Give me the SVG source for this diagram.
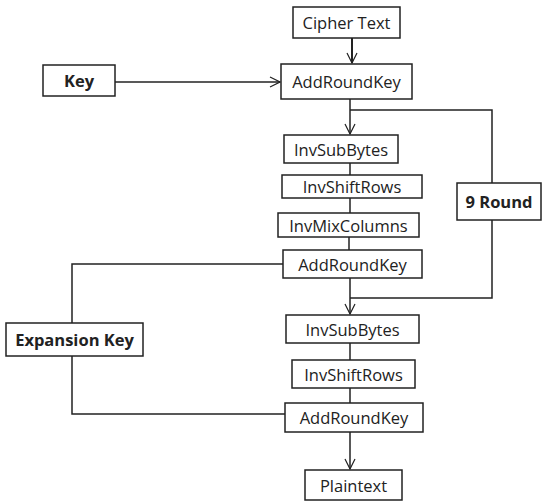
<svg xmlns="http://www.w3.org/2000/svg" width="543" height="502" viewBox="0 0 543 502">
<style>
.box{fill:#fff;stroke:#222;stroke-width:1.5}
.t{font-family:"Open Sans","Liberation Sans",sans-serif;font-size:16.5px;fill:#222;text-anchor:middle;dominant-baseline:central}
.b{font-weight:bold}
.c{fill:none;stroke:#222;stroke-width:1.5}
</style>
<defs>
<marker id="ah" viewBox="0 0 12 12" refX="11" refY="6" markerWidth="12" markerHeight="12" markerUnits="userSpaceOnUse" orient="auto">
<path d="M1,1 L11,6 L1,11" fill="none" stroke="#222" stroke-width="1.2"/>
</marker>
</defs>
<rect width="543" height="502" fill="#fff"/>
<g id="connectors">
<line class="c" x1="352" y1="38" x2="352" y2="63" marker-end="url(#ah)" style="stroke-width:2"/>
<line class="c" x1="115" y1="82" x2="280" y2="82" marker-end="url(#ah)"/>
<line class="c" x1="350" y1="99" x2="350" y2="134" marker-end="url(#ah)"/>
<polyline class="c" points="350,110 492,110 492,298 350,298"/>
<line class="c" x1="350" y1="163" x2="350" y2="175"/>
<line class="c" x1="350" y1="198" x2="350" y2="213"/>
<line class="c" x1="349" y1="237" x2="349" y2="250"/>
<line class="c" x1="350" y1="278" x2="350" y2="314" marker-end="url(#ah)"/>
<line class="c" x1="350" y1="343" x2="350" y2="360"/>
<line class="c" x1="350" y1="388" x2="350" y2="403"/>
<line class="c" x1="350" y1="432" x2="350" y2="469" marker-end="url(#ah)"/>
<polyline class="c" points="72,323 72,264 283,264"/>
<polyline class="c" points="72,356 72,414 285,414"/>
</g>
<g id="cipher"><rect class="box" x="293" y="7" width="107" height="31"/><text class="t" x="346.5" y="22.5">Cipher Text</text></g>
<g id="key"><rect class="box" x="43" y="65" width="72" height="31"/><text class="t b" x="79" y="80.5">Key</text></g>
<g id="ark1"><rect class="box" x="281" y="64" width="131" height="35"/><text class="t" x="346.5" y="81.5">AddRoundKey</text></g>
<g id="isb1"><rect class="box" x="284" y="135" width="114" height="28"/><text class="t" x="341" y="149">InvSubBytes</text></g>
<g id="isr1"><rect class="box" x="282" y="175" width="140" height="23"/><text class="t" x="352" y="186.5">InvShiftRows</text></g>
<g id="imc"><rect class="box" x="278" y="213" width="141" height="24"/><text class="t" x="348.5" y="225">InvMixColumns</text></g>
<g id="ark2"><rect class="box" x="283" y="250" width="139" height="28"/><text class="t" x="352.5" y="264">AddRoundKey</text></g>
<g id="round9"><rect class="box" x="457" y="183" width="84" height="37"/><text class="t b" x="499" y="201.5">9 Round</text></g>
<g id="expkey"><rect class="box" x="6" y="323" width="137" height="33"/><text class="t b" x="74.5" y="339.5">Expansion Key</text></g>
<g id="isb2"><rect class="box" x="286" y="315" width="133" height="28"/><text class="t" x="352.5" y="329">InvSubBytes</text></g>
<g id="isr2"><rect class="box" x="292" y="360" width="123" height="28"/><text class="t" x="353.5" y="374">InvShiftRows</text></g>
<g id="ark3"><rect class="box" x="285" y="403" width="138" height="29"/><text class="t" x="354" y="417.5">AddRoundKey</text></g>
<g id="plain"><rect class="box" x="305" y="470" width="97" height="30"/><text class="t" x="353.5" y="485">Plaintext</text></g>
</svg>
